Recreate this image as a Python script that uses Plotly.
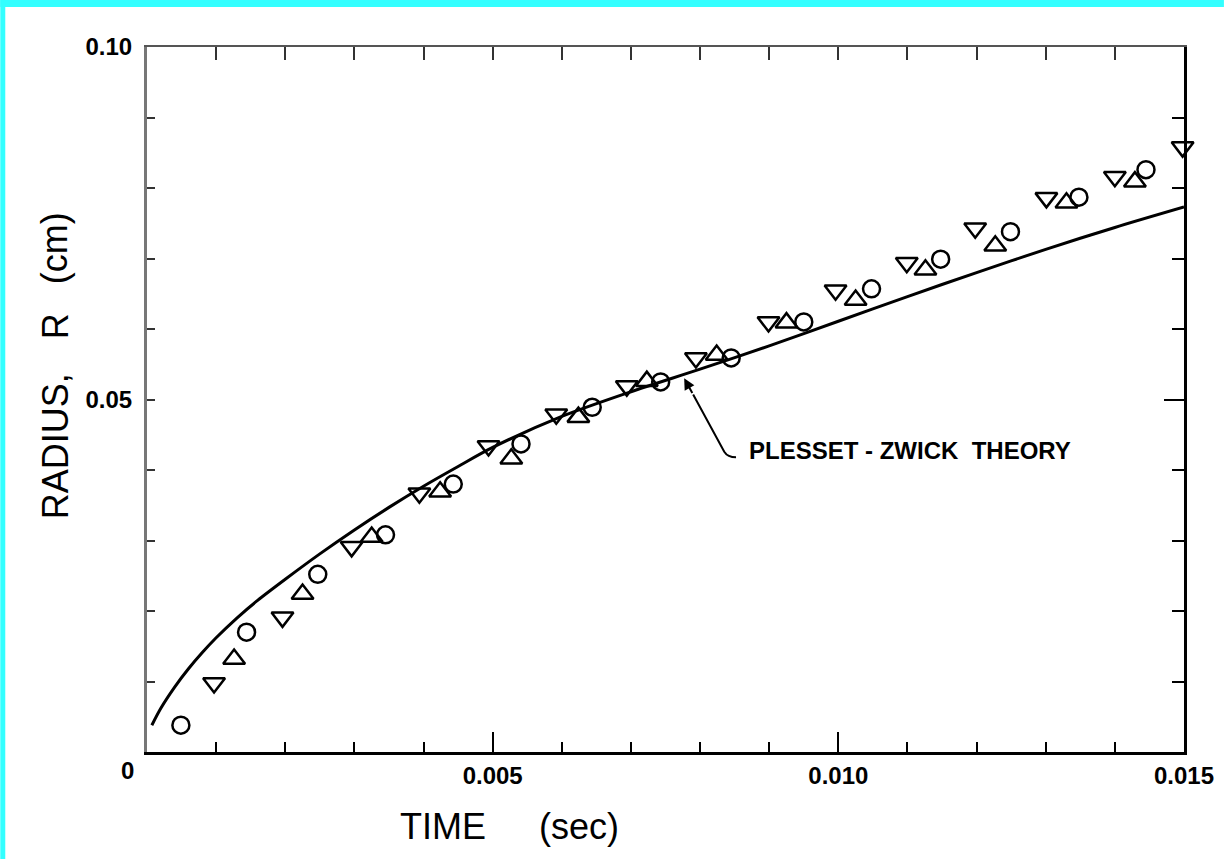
import plotly.graph_objects as go

# ---------------- data ----------------
theory_t = [0.00007, 0.0002, 0.0004, 0.0006, 0.0008, 0.0010, 0.0013, 0.0016, 0.0020,
            0.0025, 0.0030, 0.0035, 0.0040, 0.0045, 0.0050, 0.0060, 0.0070, 0.0080,
            0.0090, 0.0100, 0.0110, 0.0120, 0.0130, 0.0140, 0.0150]
theory_r = [0.0038, 0.0062, 0.0092, 0.0118, 0.0141, 0.0162, 0.0190, 0.0215, 0.0245,
            0.0281, 0.0315, 0.0347, 0.0377, 0.0405, 0.0432, 0.0476, 0.0511, 0.0543,
            0.0576, 0.0611, 0.0646, 0.0680, 0.0713, 0.0744, 0.0773]

circle_t = [0.00049, 0.00144, 0.00247, 0.00345, 0.00443, 0.00541, 0.00644, 0.00743,
            0.00845, 0.00950, 0.01048, 0.01148, 0.01249, 0.01348, 0.01445]
circle_r = [0.0038, 0.0170, 0.0252, 0.0308, 0.0380, 0.0437, 0.0489, 0.0525,
            0.0559, 0.0610, 0.0657, 0.0699, 0.0738, 0.0787, 0.0826]

up_t = [0.00126, 0.00225, 0.00325, 0.00424, 0.00527, 0.00624, 0.00723, 0.00824,
        0.00925, 0.01025, 0.01126, 0.01227, 0.01330, 0.01429]
up_r = [0.0132, 0.0224, 0.0305, 0.0369, 0.0416, 0.0475, 0.0526, 0.0563,
        0.0609, 0.0641, 0.0684, 0.0718, 0.0779, 0.0809]

down_t = [0.00097, 0.00196, 0.00296, 0.00394, 0.00494, 0.00592, 0.00694, 0.00794,
          0.00899, 0.00996, 0.01099, 0.01198, 0.01301, 0.01400, 0.01498]
down_r = [0.0098, 0.0191, 0.0291, 0.0367, 0.0434, 0.0479, 0.0519, 0.0559,
          0.0610, 0.0655, 0.0694, 0.0743, 0.0786, 0.0816, 0.0858]

x_tick_vals = [0.005, 0.010, 0.015]
x_tick_text = ["0.005", "0.010", "0.015"]
y_tick_vals = [0.01, 0.02, 0.03, 0.04, 0.05, 0.06, 0.07, 0.08, 0.09, 0.10]
y_tick_text = ["", "", "", "", "0.05", "", "", "", "", "0.10"]

# annotation leader geometry (data coords)
arrow_tip = (0.00777, 0.0530)
arrow_mid = (0.00790, 0.0507)
arrow_tail = (0.00835, 0.0426)
hook_end = (0.00852, 0.0418)
label_pos = (0.00868, 0.0428)

# ---------------- figure ----------------
W, H = 1226, 859
ML, MR, MT, MB = 147, 40, 47, 107
PW, PH = W - ML - MR, H - MT - MB

def px_x(px):
    return (px - ML) / PW

def px_y(py):
    return (H - MB - py) / PH

FONT = "Liberation Sans, Arial, sans-serif"
CYAN = "#33FFFF"

fig = go.Figure()

fig.add_trace(go.Scatter(x=theory_t, y=theory_r, mode="lines",
                         line=dict(color="black", width=3, shape="spline", smoothing=0.8),
                         showlegend=False, hoverinfo="skip"))
fig.add_trace(go.Scatter(x=circle_t, y=circle_r, mode="markers", showlegend=False,
                         cliponaxis=False,
                         marker=dict(symbol="circle-open", size=17, color="black",
                                     line=dict(width=2.5, color="black"))))
fig.add_trace(go.Scatter(x=up_t, y=up_r, mode="markers", showlegend=False,
                         cliponaxis=False,
                         marker=dict(symbol="triangle-up-open", size=19, color="black",
                                     line=dict(width=2.5, color="black"))))
fig.add_trace(go.Scatter(x=down_t, y=down_r, mode="markers", showlegend=False,
                         cliponaxis=False,
                         marker=dict(symbol="triangle-down-open", size=19, color="black",
                                     line=dict(width=2.5, color="black"))))
# invisible trace to activate the mirror axes (top / right)
fig.add_trace(go.Scatter(x=[0.0], y=[0.0], xaxis="x2", yaxis="y2", mode="markers",
                         marker=dict(opacity=0), showlegend=False, hoverinfo="skip"))

tickfont = dict(family=FONT, size=24, color="black", weight="bold")

fig.update_layout(
    width=W, height=H, autosize=False,
    margin=dict(l=ML, r=MR, t=MT, b=MB, pad=0),
    paper_bgcolor="white", plot_bgcolor="white",
    showlegend=False,
    xaxis=dict(range=[0, 0.015], showgrid=False, zeroline=False,
               showline=True, linecolor="black", linewidth=2.5,
               ticks="inside", tickvals=x_tick_vals, ticktext=x_tick_text,
               ticklen=20, tickwidth=2, tickcolor="black",
               tickfont=tickfont, ticklabelstandoff=0,
               minor=dict(dtick=0.001, tick0=0, ticks="inside", ticklen=10,
                          tickwidth=2, tickcolor="black", showgrid=False)),
    yaxis=dict(range=[0, 0.10], showgrid=False, zeroline=False,
               showline=True, linecolor="#777777", linewidth=3,
               ticks="inside", tickvals=y_tick_vals, ticktext=y_tick_text,
               ticklen=8, tickwidth=2, tickcolor="#333333",
               tickfont=tickfont, ticklabelstandoff=7),
    xaxis2=dict(range=[0, 0.015], overlaying="x", side="top", anchor="y",
                showgrid=False, zeroline=False, showline=True,
                linecolor="#555555", linewidth=1.5, ticks="inside",
                tick0=0, dtick=0.001, ticklen=13, tickwidth=2, tickcolor="#333333",
                showticklabels=False),
    yaxis2=dict(range=[0, 0.10], overlaying="y", side="right", anchor="x",
                showgrid=False, zeroline=False, showline=True,
                linecolor="black", linewidth=2.5, ticks="inside",
                tickvals=[0.05], ticklen=20, tickwidth=2, tickcolor="black",
                showticklabels=False,
                minor=dict(dtick=0.01, tick0=0, ticks="inside", ticklen=12,
                           tickwidth=2, tickcolor="black", showgrid=False)),
)

# cyan frame pieces (top and left)
fig.add_shape(type="rect", xref="paper", yref="paper", layer="below",
              x0=px_x(0), x1=px_x(W), y0=px_y(7), y1=px_y(0),
              fillcolor=CYAN, line=dict(width=0))
fig.add_shape(type="rect", xref="paper", yref="paper", layer="below",
              x0=px_x(0), x1=px_x(5), y0=px_y(H), y1=px_y(0),
              fillcolor=CYAN, line=dict(width=0))

# leader line with a hooked end
fig.add_shape(type="path", xref="x", yref="y",
              path=(f"M {arrow_mid[0]},{arrow_mid[1]} "
                    f"L {arrow_tail[0]},{arrow_tail[1]} "
                    f"Q {arrow_tail[0] + 0.00005},{hook_end[1]} {hook_end[0]},{hook_end[1]}"),
              line=dict(color="black", width=2))

annotations = [
    # arrow head pointing at the theory curve
    dict(x=arrow_tip[0], y=arrow_tip[1], xref="x", yref="y",
         ax=arrow_mid[0], ay=arrow_mid[1], axref="x", ayref="y",
         text="", showarrow=True, arrowhead=2, arrowsize=1.1, arrowwidth=2,
         arrowcolor="black", standoff=0, startstandoff=0),
    dict(x=label_pos[0], y=label_pos[1], xref="x", yref="y", xanchor="left",
         yanchor="middle", showarrow=False, text="PLESSET - ZWICK&nbsp;&nbsp;THEORY",
         font=dict(family=FONT, size=24, color="black", weight="bold")),
    # origin label
    dict(x=px_x(127), y=px_y(770), xref="paper", yref="paper", showarrow=False,
         text="0", font=tickfont, xanchor="center", yanchor="middle"),
    # x-axis title
    dict(x=px_x(444), y=px_y(826), xref="paper", yref="paper", showarrow=False,
         text="TIME", font=dict(family=FONT, size=36, color="black"),
         xanchor="center", yanchor="middle"),
    dict(x=px_x(580), y=px_y(826), xref="paper", yref="paper", showarrow=False,
         text="(sec)", font=dict(family=FONT, size=36, color="black"),
         xanchor="center", yanchor="middle"),
    # y-axis title
    dict(x=px_x(55), y=px_y(446), xref="paper", yref="paper", showarrow=False,
         text="RADIUS,", textangle=-90, font=dict(family=FONT, size=36, color="black"),
         xanchor="center", yanchor="middle"),
    dict(x=px_x(55), y=px_y(326), xref="paper", yref="paper", showarrow=False,
         text="R", textangle=-90, font=dict(family=FONT, size=36, color="black"),
         xanchor="center", yanchor="middle"),
    dict(x=px_x(55), y=px_y(248), xref="paper", yref="paper", showarrow=False,
         text="(cm)", textangle=-90, font=dict(family=FONT, size=36, color="black"),
         xanchor="center", yanchor="middle"),
]
fig.update_layout(annotations=annotations)

fig.write_html(
    "out.html",
    config={"displayModeBar": False},
    post_script="document.body.style.margin='0';document.body.style.padding='0';"
                "document.body.style.overflow='hidden';",
)
